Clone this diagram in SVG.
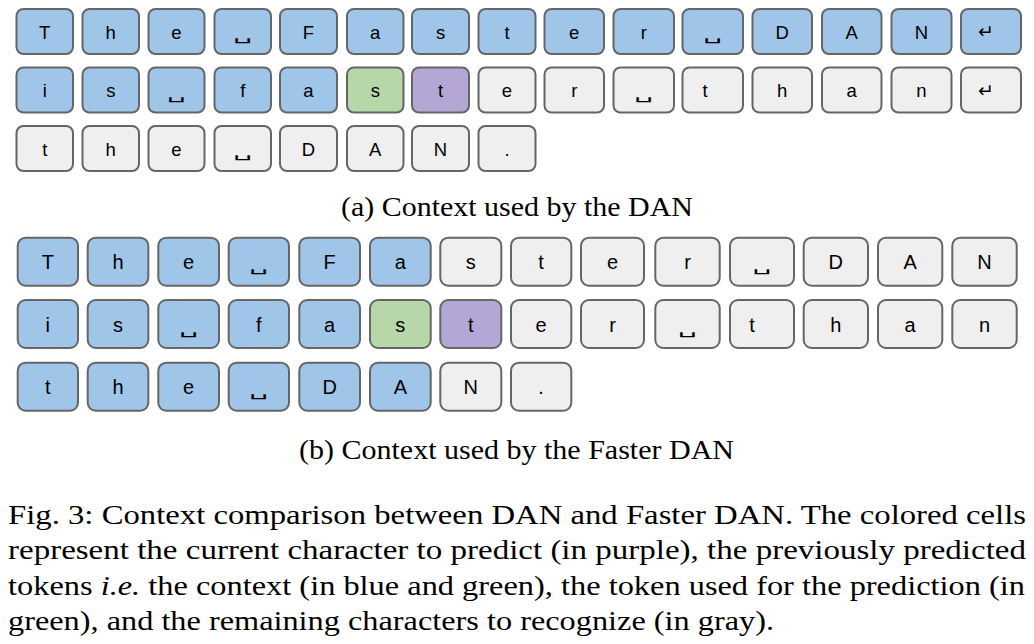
<svg xmlns="http://www.w3.org/2000/svg" width="1034" height="644" viewBox="0 0 1034 644">
<style>
rect{stroke:#666;stroke-width:2}
.a rect{rx:7px}
.b rect{rx:8px}
.bl{fill:#9fc5e8}.gr{fill:#b6d7a8}.pu{fill:#b4a7d6}.gy{fill:#efefef}
text{fill:#000}
.l{font-family:"Liberation Sans",Arial,sans-serif;text-anchor:middle}
.a .l{font-size:18.5px}
.b .l{font-size:20px}
.sp{font-family:"DejaVu Sans",sans-serif;text-anchor:middle;font-size:15px}
.rt{font-family:"DejaVu Sans",sans-serif;text-anchor:middle;font-size:19px}
.cap{font-family:"Liberation Serif","Times New Roman",serif;font-size:27px}
</style>
<rect width="1034" height="644" fill="#fff" style="stroke:none"/>
<g id="panel-a" class="a">
<g id="a1-1"><rect class="bl" x="16.5" y="9" width="56.5" height="45"/><text class="l" x="44.75" y="38.5">T</text></g>
<g id="a1-2"><rect class="bl" x="82.5" y="9" width="56.5" height="45"/><text class="l" x="110.75" y="38.5">h</text></g>
<g id="a1-3"><rect class="bl" x="148.5" y="9" width="56" height="45"/><text class="l" x="176.5" y="38.5">e</text></g>
<g id="a1-4"><rect class="bl" x="214.5" y="9" width="56.5" height="45"/><text class="sp" transform="translate(242.75 40) scale(2 1)">␣</text></g>
<g id="a1-5"><rect class="bl" x="280" y="9" width="57" height="45"/><text class="l" x="308.5" y="38.5">F</text></g>
<g id="a1-6"><rect class="bl" x="347" y="9" width="56.5" height="45"/><text class="l" x="375.25" y="38.5">a</text></g>
<g id="a1-7"><rect class="bl" x="412" y="9" width="57" height="45"/><text class="l" x="440.5" y="38.5">s</text></g>
<g id="a1-8"><rect class="bl" x="478.5" y="9" width="57" height="45"/><text class="l" x="507" y="38.5">t</text></g>
<g id="a1-9"><rect class="bl" x="544.5" y="9" width="59.5" height="45"/><text class="l" x="574.25" y="38.5">e</text></g>
<g id="a1-10"><rect class="bl" x="613.5" y="9" width="60.5" height="45"/><text class="l" x="643.75" y="38.5">r</text></g>
<g id="a1-11"><rect class="bl" x="682.5" y="9" width="60.5" height="45"/><text class="sp" transform="translate(712.75 40) scale(2 1)">␣</text></g>
<g id="a1-12"><rect class="bl" x="752.5" y="9" width="59.5" height="45"/><text class="l" x="782.25" y="38.5">D</text></g>
<g id="a1-13"><rect class="bl" x="822" y="9" width="59.5" height="45"/><text class="l" x="851.75" y="38.5">A</text></g>
<g id="a1-14"><rect class="bl" x="891.5" y="9" width="60" height="45"/><text class="l" x="921.5" y="38.5">N</text></g>
<g id="a1-15"><rect class="bl" x="961" y="9" width="60" height="45"/><text class="rt" x="986" y="38">↵</text></g>

<g id="a2-1"><rect class="bl" x="16.5" y="67.5" width="56.5" height="45"/><text class="l" x="44.75" y="97">i</text></g>
<g id="a2-2"><rect class="bl" x="82.5" y="67.5" width="56.5" height="45"/><text class="l" x="110.75" y="97">s</text></g>
<g id="a2-3"><rect class="bl" x="148.5" y="67.5" width="56" height="45"/><text class="sp" transform="translate(176.5 98.5) scale(2 1)">␣</text></g>
<g id="a2-4"><rect class="bl" x="214.5" y="67.5" width="56.5" height="45"/><text class="l" x="242.75" y="97">f</text></g>
<g id="a2-5"><rect class="bl" x="280" y="67.5" width="57" height="45"/><text class="l" x="308.5" y="97">a</text></g>
<g id="a2-6"><rect class="gr" x="347" y="67.5" width="56.5" height="45"/><text class="l" x="375.25" y="97">s</text></g>
<g id="a2-7"><rect class="pu" x="412" y="67.5" width="57" height="45"/><text class="l" x="440.5" y="97">t</text></g>
<g id="a2-8"><rect class="gy" x="478.5" y="67.5" width="57" height="45"/><text class="l" x="507" y="97">e</text></g>
<g id="a2-9"><rect class="gy" x="544.5" y="67.5" width="59.5" height="45"/><text class="l" x="574.25" y="97">r</text></g>
<g id="a2-10"><rect class="gy" x="613.5" y="67.5" width="60.5" height="45"/><text class="sp" transform="translate(643.75 98.5) scale(2 1)">␣</text></g>
<g id="a2-11"><rect class="gy" x="682.5" y="67.5" width="60.5" height="45"/><text class="l" x="705" y="97">t</text></g>
<g id="a2-12"><rect class="gy" x="752.5" y="67.5" width="59.5" height="45"/><text class="l" x="782.25" y="97">h</text></g>
<g id="a2-13"><rect class="gy" x="822" y="67.5" width="59.5" height="45"/><text class="l" x="851.75" y="97">a</text></g>
<g id="a2-14"><rect class="gy" x="891.5" y="67.5" width="60" height="45"/><text class="l" x="921.5" y="97">n</text></g>
<g id="a2-15"><rect class="gy" x="961" y="67.5" width="60" height="45"/><text class="rt" x="986" y="96.5">↵</text></g>

<g id="a3-1"><rect class="gy" x="16.5" y="126" width="56.5" height="45"/><text class="l" x="44.75" y="155.5">t</text></g>
<g id="a3-2"><rect class="gy" x="82.5" y="126" width="56.5" height="45"/><text class="l" x="110.75" y="155.5">h</text></g>
<g id="a3-3"><rect class="gy" x="148.5" y="126" width="56" height="45"/><text class="l" x="176.5" y="155.5">e</text></g>
<g id="a3-4"><rect class="gy" x="214.5" y="126" width="56.5" height="45"/><text class="sp" transform="translate(242.75 157) scale(2 1)">␣</text></g>
<g id="a3-5"><rect class="gy" x="280" y="126" width="57" height="45"/><text class="l" x="308.5" y="155.5">D</text></g>
<g id="a3-6"><rect class="gy" x="347" y="126" width="56.5" height="45"/><text class="l" x="375.25" y="155.5">A</text></g>
<g id="a3-7"><rect class="gy" x="412" y="126" width="57" height="45"/><text class="l" x="440.5" y="155.5">N</text></g>
<g id="a3-8"><rect class="gy" x="478.5" y="126" width="57" height="45"/><text class="l" x="507" y="155.5">.</text></g>
</g>
<text id="caption-a" class="cap" x="517" y="216" text-anchor="middle" textLength="352" lengthAdjust="spacingAndGlyphs">(a) Context used by the DAN</text>

<g id="panel-b" class="b">
<g id="b1-1"><rect class="bl" x="17.7" y="237.7" width="60.3" height="48"/><text class="l" x="47.85" y="269">T</text></g>
<g id="b1-2"><rect class="bl" x="87.7" y="237.7" width="60.6" height="48"/><text class="l" x="118" y="269">h</text></g>
<g id="b1-3"><rect class="bl" x="158.3" y="237.7" width="60.7" height="48"/><text class="l" x="188.65" y="269">e</text></g>
<g id="b1-4"><rect class="bl" x="228.7" y="237.7" width="60.3" height="48"/><text class="sp" transform="translate(258.85 271) scale(2 1)">␣</text></g>
<g id="b1-5"><rect class="bl" x="299.3" y="237.7" width="60.7" height="48"/><text class="l" x="329.65" y="269">F</text></g>
<g id="b1-6"><rect class="bl" x="370" y="237.7" width="60.7" height="48"/><text class="l" x="400.35" y="269">a</text></g>
<g id="b1-7"><rect class="gy" x="440.3" y="237.7" width="61" height="48"/><text class="l" x="470.8" y="269">s</text></g>
<g id="b1-8"><rect class="gy" x="511" y="237.7" width="60.3" height="48"/><text class="l" x="541.15" y="269">t</text></g>
<g id="b1-9"><rect class="gy" x="581" y="237.7" width="63" height="48"/><text class="l" x="612.5" y="269">e</text></g>
<g id="b1-10"><rect class="gy" x="655.3" y="237.7" width="64.4" height="48"/><text class="l" x="687.5" y="269">r</text></g>
<g id="b1-11"><rect class="gy" x="730" y="237.7" width="64" height="48"/><text class="sp" transform="translate(762 271) scale(2 1)">␣</text></g>
<g id="b1-12"><rect class="gy" x="803.7" y="237.7" width="64.3" height="48"/><text class="l" x="835.85" y="269">D</text></g>
<g id="b1-13"><rect class="gy" x="878" y="237.7" width="64.3" height="48"/><text class="l" x="910.15" y="269">A</text></g>
<g id="b1-14"><rect class="gy" x="952.3" y="237.7" width="64.4" height="48"/><text class="l" x="984.5" y="269">N</text></g>

<g id="b2-1"><rect class="bl" x="17.7" y="300" width="60.3" height="48"/><text class="l" x="47.85" y="331.5">i</text></g>
<g id="b2-2"><rect class="bl" x="87.7" y="300" width="60.6" height="48"/><text class="l" x="118" y="331.5">s</text></g>
<g id="b2-3"><rect class="bl" x="158.3" y="300" width="60.7" height="48"/><text class="sp" transform="translate(188.65 333.5) scale(2 1)">␣</text></g>
<g id="b2-4"><rect class="bl" x="228.7" y="300" width="60.3" height="48"/><text class="l" x="258.85" y="331.5">f</text></g>
<g id="b2-5"><rect class="bl" x="299.3" y="300" width="60.7" height="48"/><text class="l" x="329.65" y="331.5">a</text></g>
<g id="b2-6"><rect class="gr" x="370" y="300" width="60.7" height="48"/><text class="l" x="400.35" y="331.5">s</text></g>
<g id="b2-7"><rect class="pu" x="440.3" y="300" width="61" height="48"/><text class="l" x="470.8" y="331.5">t</text></g>
<g id="b2-8"><rect class="gy" x="511" y="300" width="60.3" height="48"/><text class="l" x="541.15" y="331.5">e</text></g>
<g id="b2-9"><rect class="gy" x="581" y="300" width="63" height="48"/><text class="l" x="612.5" y="331.5">r</text></g>
<g id="b2-10"><rect class="gy" x="655.3" y="300" width="64.4" height="48"/><text class="sp" transform="translate(687.5 333.5) scale(2 1)">␣</text></g>
<g id="b2-11"><rect class="gy" x="730" y="300" width="64" height="48"/><text class="l" x="752" y="331.5">t</text></g>
<g id="b2-12"><rect class="gy" x="803.7" y="300" width="64.3" height="48"/><text class="l" x="835.85" y="331.5">h</text></g>
<g id="b2-13"><rect class="gy" x="878" y="300" width="64.3" height="48"/><text class="l" x="910.15" y="331.5">a</text></g>
<g id="b2-14"><rect class="gy" x="952.3" y="300" width="64.4" height="48"/><text class="l" x="984.5" y="331.5">n</text></g>

<g id="b3-1"><rect class="bl" x="17.7" y="362.7" width="60.3" height="48"/><text class="l" x="47.85" y="394">t</text></g>
<g id="b3-2"><rect class="bl" x="87.7" y="362.7" width="60.6" height="48"/><text class="l" x="118" y="394">h</text></g>
<g id="b3-3"><rect class="bl" x="158.3" y="362.7" width="60.7" height="48"/><text class="l" x="188.65" y="394">e</text></g>
<g id="b3-4"><rect class="bl" x="228.7" y="362.7" width="60.3" height="48"/><text class="sp" transform="translate(258.85 396) scale(2 1)">␣</text></g>
<g id="b3-5"><rect class="bl" x="299.3" y="362.7" width="60.7" height="48"/><text class="l" x="329.65" y="394">D</text></g>
<g id="b3-6"><rect class="bl" x="370" y="362.7" width="60.7" height="48"/><text class="l" x="400.35" y="394">A</text></g>
<g id="b3-7"><rect class="gy" x="440.3" y="362.7" width="61" height="48"/><text class="l" x="470.8" y="394">N</text></g>
<g id="b3-8"><rect class="gy" x="511" y="362.7" width="60.3" height="48"/><text class="l" x="541.15" y="394">.</text></g>
</g>
<text id="caption-b" class="cap" x="516.5" y="459" text-anchor="middle" textLength="435" lengthAdjust="spacingAndGlyphs">(b) Context used by the Faster DAN</text>

<g id="figure-caption" class="cap">
<text x="8" y="524" textLength="1018" lengthAdjust="spacingAndGlyphs">Fig. 3: Context comparison between DAN and Faster DAN. The colored cells</text>
<text x="8" y="559" textLength="1018" lengthAdjust="spacingAndGlyphs">represent the current character to predict (in purple), the previously predicted</text>
<text x="8" y="594.5" textLength="1017" lengthAdjust="spacingAndGlyphs">tokens <tspan font-style="italic">i.e.</tspan> the context (in blue and green), the token used for the prediction (in</text>
<text x="8" y="629.5" textLength="766" lengthAdjust="spacingAndGlyphs">green), and the remaining characters to recognize (in gray).</text>
</g>
</svg>
